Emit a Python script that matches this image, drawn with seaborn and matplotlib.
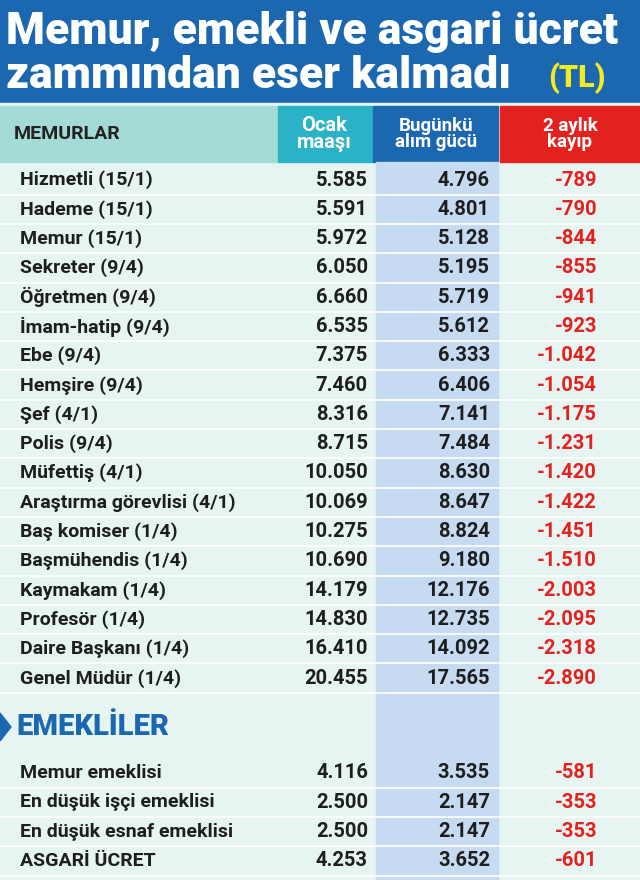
import matplotlib
matplotlib.use("Agg")
import matplotlib.pyplot as plt
import seaborn as sns
from matplotlib.patches import Rectangle, Polygon

sns.set_theme(style="white")
plt.rcParams['font.family'] = ['Roboto', 'DejaVu Sans']

memur_labels = ["Hizmetli (15/1)", "Hademe (15/1)", "Memur (15/1)", "Sekreter (9/4)",
                "Öğretmen (9/4)", "İmam-hatip (9/4)", "Ebe (9/4)", "Hemşire (9/4)",
                "Şef (4/1)", "Polis (9/4)", "Müfettiş (4/1)", "Araştırma görevlisi (4/1)",
                "Baş komiser (1/4)", "Başmühendis (1/4)", "Kaymakam (1/4)", "Profesör (1/4)",
                "Daire Başkanı (1/4)", "Genel Müdür (1/4)"]
memur_ocak = ["5.585", "5.591", "5.972", "6.050", "6.660", "6.535", "7.375", "7.460", "8.316",
              "8.715", "10.050", "10.069", "10.275", "10.690", "14.179", "14.830", "16.410", "20.455"]
memur_bugun = ["4.796", "4.801", "5.128", "5.195", "5.719", "5.612", "6.333", "6.406", "7.141",
               "7.484", "8.630", "8.647", "8.824", "9.180", "12.176", "12.735", "14.092", "17.565"]
memur_kayip = ["-789", "-790", "-844", "-855", "-941", "-923", "-1.042", "-1.054", "-1.175",
               "-1.231", "-1.420", "-1.422", "-1.451", "-1.510", "-2.003", "-2.095", "-2.318", "-2.890"]
emekli_labels = ["Memur emeklisi", "En düşük işçi emeklisi", "En düşük esnaf emeklisi", "ASGARİ ÜCRET"]
emekli_ocak = ["4.116", "2.500", "2.500", "4.253"]
emekli_bugun = ["3.535", "2.147", "2.147", "3.652"]
emekli_kayip = ["-581", "-353", "-353", "-601"]

fig = plt.figure(figsize=(6.4, 8.8), dpi=100)
ax = fig.add_axes([0, 0, 1, 1])
ax.set_xlim(0, 640); ax.set_ylim(880, 0); ax.axis("off")

BLUE = "#1c68b0"
ax.add_patch(Rectangle((0, 0), 640, 103, color=BLUE))
ax.text(6, 32, "Memur, emekli ve asgari ücret", color="white", fontsize=32,
        fontweight="black", va="center", ha="left")
ax.text(6, 76, "zammından eser kalmadı", color="white", fontsize=32,
        fontweight="black", va="center", ha="left")
ax.text(548, 78, "(TL)", color="#f4ea20", fontsize=22, fontweight="black", va="center")

ax.add_patch(Rectangle((0, 103), 640, 777, color="#e6f4f2"))
ax.add_patch(Rectangle((0, 106), 278, 56, color="#a5dbd7"))
ax.add_patch(Rectangle((278, 106), 95, 56, color="#2ab3c6"))
ax.add_patch(Rectangle((373, 106), 125, 56, color=BLUE))
ax.add_patch(Rectangle((500, 106), 140, 56, color="#e3211f"))
ax.add_patch(Rectangle((376, 162), 122, 718, color="#c6dbf1"))

ax.text(14, 134, "MEMURLAR", fontsize=14, fontweight="bold", color="#222", va="center")
ax.text(324, 134, "Ocak\nmaaşı", fontsize=14.5, fontweight="bold", color="white",
        va="center", ha="center", linespacing=0.9)
ax.text(436, 134, "Bugünkü\nalım gücü", fontsize=13.5, fontweight="bold", color="white",
        va="center", ha="center", linespacing=0.9)
ax.text(570, 134, "2 aylık\nkayıp", fontsize=13.5, fontweight="bold", color="white",
        va="center", ha="center", linespacing=0.9)

step = 29.3
def row(y, lab, o, b, k):
    ax.plot([0, 640], [y + step / 2, y + step / 2], color="white", lw=1.2)
    ax.text(20, y, lab, fontsize=14, fontweight="bold", color="#1e1e1e", va="center")
    ax.text(368, y, o, fontsize=14.5, fontweight="bold", color="#1e1e1e", va="center", ha="right")
    ax.text(490, y, b, fontsize=14.5, fontweight="bold", color="#1e1e1e", va="center", ha="right")
    ax.text(597, y, k, fontsize=14.5, fontweight="bold", color="#e3211f", va="center", ha="right")

for i, (l, o, b, k) in enumerate(zip(memur_labels, memur_ocak, memur_bugun, memur_kayip)):
    row(180 + i * step, l, o, b, k)

ax.add_patch(Polygon([[0, 713], [11, 727], [0, 741]], color=BLUE))
ax.text(16, 727, "EMEKLİLER", fontsize=21, fontweight="black", color=BLUE, va="center")
for i, (l, o, b, k) in enumerate(zip(emekli_labels, emekli_ocak, emekli_bugun, emekli_kayip)):
    row(773 + i * step, l, o, b, k)

fig.savefig("out.png", dpi=100)
